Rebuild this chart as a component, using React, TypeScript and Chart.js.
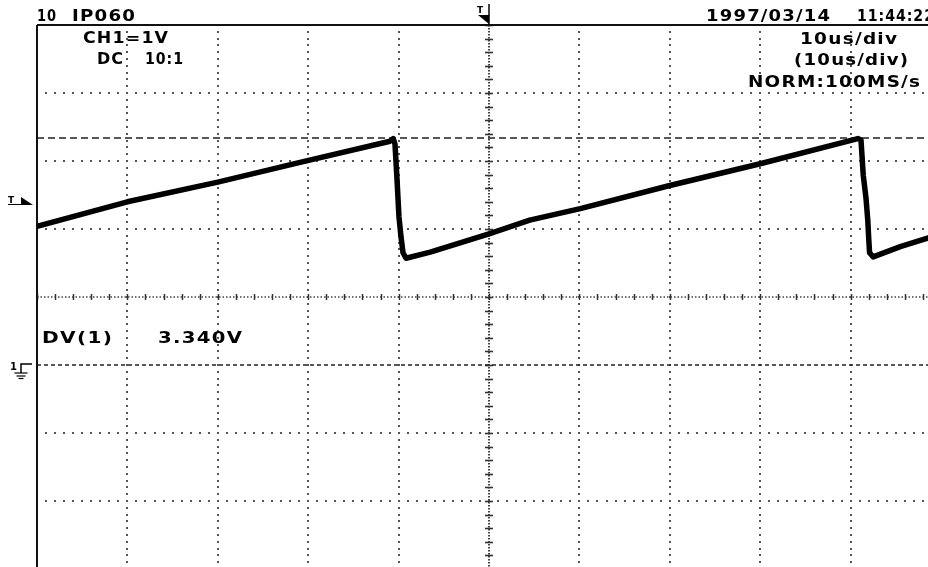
import React, { useEffect, useRef } from "react";
import { Chart, registerables } from "chart.js";

Chart.register(...registerables);

// Waveform: time (us, trigger at 0) and voltage (V, ground at 0)
const timeUs = [-50, -40, -30, -20.9, -10.95, -10.6, -10.4, -10.2, -9.96, -9.73, -9.51, -9.18, -6.5, 0, 4.5, 10.1, 20.0, 30.0, 40.8, 41.15, 41.4, 41.7, 41.9, 42.0, 42.1, 42.5, 45.5, 48.6, 50];
const volts = [2.04, 2.4, 2.69, 2.98, 3.29, 3.33, 3.25, 2.79, 2.18, 1.88, 1.65, 1.57, 1.66, 1.93, 2.13, 2.3, 2.64, 2.96, 3.33, 3.31, 2.79, 2.46, 2.13, 1.87, 1.65, 1.59, 1.74, 1.87, 1.92];

// Screen grid (10 us/div, 1 V/div)
const xRange = [-50, 50];
const yRange = [-3, 5];
const xGridUs = [-40, -30, -20, -10, 10, 20, 30, 40, 50];
const yGridV = [4, 3, 2, -1, -2];
const centerTimeUs = 0;
const centerVolts = 1;
const cursorVolts = 3.34;
const groundVolts = 0;
const triggerVolts = 2.37;

// Screen annotations
const headerLeft = ["10", "IP060"];
const dateText = "1997/03/14";
const timeText = "11:44:22";
const channelText = "CH1=1V";
const couplingText = ["DC", "10:1"];
const timebaseText = ["10us/div", "(10us/div)", "NORM:100MS/s"];
const measureLabel = "DV(1)";
const measureValue = "3.340V";

const FONT = 'bold 15px "DejaVu Sans", sans-serif';

function drawFitText(ctx: CanvasRenderingContext2D, s: string, x: number, baseline: number, width: number) {
  ctx.save();
  ctx.font = FONT;
  (ctx as any).letterSpacing = "1px";
  const m = ctx.measureText(s).width - 1;
  const sx = width / m;
  ctx.fillStyle = "#000";
  ctx.textBaseline = "alphabetic";
  ctx.textAlign = "left";
  ctx.translate(x, baseline);
  ctx.scale(sx, 1);
  ctx.fillText(s, 0, 0);
  ctx.restore();
}

const scopePlugin = {
  id: "scopeScreen",
  beforeDatasetsDraw(chart: any) {
    const ctx: CanvasRenderingContext2D = chart.ctx;
    const xs = chart.scales.x;
    const ys = chart.scales.y;
    const area = chart.chartArea;
    ctx.save();
    // dotted grid
    ctx.fillStyle = "#555";
    for (const t of xGridUs) {
      const px = Math.round(xs.getPixelForValue(t));
      for (let k = 0; k <= 80; k++) {
        const v = yRange[0] + k * 0.1;
        const py = Math.round(ys.getPixelForValue(v));
        ctx.fillRect(px - 1, py - 1, 2, 2);
      }
    }
    for (const v of yGridV) {
      const py = Math.round(ys.getPixelForValue(v));
      for (let k = 0; k <= 100; k++) {
        const t = xRange[0] + k;
        const px = Math.round(xs.getPixelForValue(t));
        ctx.fillRect(px - 1, py - 1, 2, 2);
      }
    }
    // center vertical axis with ticks
    const cx = Math.round(xs.getPixelForValue(centerTimeUs));
    ctx.strokeStyle = "#444";
    ctx.lineWidth = 2;
    ctx.setLineDash([1.5, 1.5]);
    ctx.beginPath();
    ctx.moveTo(cx, area.top);
    ctx.lineTo(cx, area.bottom);
    ctx.stroke();
    ctx.setLineDash([]);
    ctx.strokeStyle = "#333";
    ctx.lineWidth = 1.6;
    for (let k = 0; k <= 40; k++) {
      const v = yRange[0] + k * 0.2;
      const py = Math.round(ys.getPixelForValue(v)) + 0.5;
      ctx.beginPath();
      ctx.moveTo(cx - 4, py);
      ctx.lineTo(cx + 4, py);
      ctx.stroke();
    }
    // center horizontal axis with ticks
    const cy = Math.round(ys.getPixelForValue(centerVolts));
    ctx.strokeStyle = "#444";
    ctx.lineWidth = 1.6;
    ctx.setLineDash([1.5, 2]);
    ctx.beginPath();
    ctx.moveTo(area.left, cy);
    ctx.lineTo(area.right, cy);
    ctx.stroke();
    ctx.setLineDash([]);
    ctx.strokeStyle = "#333";
    ctx.lineWidth = 1.5;
    for (let k = 0; k <= 50; k++) {
      const t = xRange[0] + k * 2;
      const px = Math.round(xs.getPixelForValue(t)) + 0.5;
      ctx.beginPath();
      ctx.moveTo(px, cy - 3);
      ctx.lineTo(px, cy + 3);
      ctx.stroke();
    }
    // cursor dashed line
    ctx.strokeStyle = "#222";
    ctx.lineWidth = 1.5;
    ctx.setLineDash([7, 4]);
    const cuy = Math.round(ys.getPixelForValue(cursorVolts));
    ctx.beginPath();
    ctx.moveTo(area.left, cuy);
    ctx.lineTo(area.right, cuy);
    ctx.stroke();
    // ground dashed line
    ctx.setLineDash([4, 3]);
    const gy = Math.round(ys.getPixelForValue(groundVolts));
    ctx.beginPath();
    ctx.moveTo(area.left, gy);
    ctx.lineTo(area.right, gy);
    ctx.stroke();
    ctx.setLineDash([]);
    // borders
    ctx.strokeStyle = "#111";
    ctx.lineWidth = 2;
    ctx.beginPath();
    ctx.moveTo(area.left, area.top);
    ctx.lineTo(area.right + 10, area.top);
    ctx.stroke();
    ctx.beginPath();
    ctx.moveTo(area.left, area.top);
    ctx.lineTo(area.left, area.bottom + 10);
    ctx.stroke();
    ctx.restore();
  },
  afterDraw(chart: any) {
    const ctx: CanvasRenderingContext2D = chart.ctx;
    const xs = chart.scales.x;
    const ys = chart.scales.y;
    const area = chart.chartArea;
    // texts
    drawFitText(ctx, headerLeft[0], 37, 20.5, 19);
    drawFitText(ctx, headerLeft[1], 72, 20.5, 63);
    drawFitText(ctx, dateText, 706, 20.5, 124);
    drawFitText(ctx, timeText, 857, 20.5, 77);
    drawFitText(ctx, channelText, 83, 43, 85);
    drawFitText(ctx, couplingText[0], 97, 64, 26);
    drawFitText(ctx, couplingText[1], 145, 64, 38);
    drawFitText(ctx, timebaseText[0], 800, 44, 97);
    drawFitText(ctx, timebaseText[1], 794, 65, 114);
    drawFitText(ctx, timebaseText[2], 748, 87, 172);
    drawFitText(ctx, measureLabel, 42, 343, 70);
    drawFitText(ctx, measureValue, 158, 343, 84);

    ctx.save();
    ctx.fillStyle = "#000";
    ctx.strokeStyle = "#000";
    // top trigger position marker
    const tx = Math.round(xs.getPixelForValue(centerTimeUs));
    const top = area.top;
    ctx.lineWidth = 1.5;
    ctx.beginPath();
    ctx.moveTo(tx, 4);
    ctx.lineTo(tx, top);
    ctx.stroke();
    ctx.beginPath();
    ctx.moveTo(tx - 11, top - 10);
    ctx.lineTo(tx, top - 10);
    ctx.lineTo(tx, top - 1);
    ctx.closePath();
    ctx.fill();
    ctx.font = 'bold 9px "DejaVu Sans", sans-serif';
    ctx.textBaseline = "alphabetic";
    ctx.fillText("T", tx - 12, 13);
    // left trigger level marker
    const ty = Math.round(ys.getPixelForValue(triggerVolts));
    ctx.font = 'bold 9px "DejaVu Sans", sans-serif';
    ctx.fillText("T", 8, ty - 1);
    ctx.lineWidth = 1;
    ctx.beginPath();
    ctx.moveTo(8, ty + 0.5);
    ctx.lineTo(22, ty + 0.5);
    ctx.stroke();
    ctx.beginPath();
    ctx.moveTo(21, ty - 7);
    ctx.lineTo(33, ty + 1);
    ctx.lineTo(21, ty + 1);
    ctx.closePath();
    ctx.fill();
    // ground marker
    const gy = Math.round(ys.getPixelForValue(groundVolts));
    ctx.font = 'bold 10px "DejaVu Sans", sans-serif';
    ctx.fillText("1", 10, gy + 5);
    ctx.lineWidth = 1.5;
    ctx.beginPath();
    ctx.moveTo(32, gy - 1);
    ctx.lineTo(21, gy - 1);
    ctx.lineTo(21, gy + 8);
    ctx.stroke();
    ctx.lineWidth = 1.2;
    const bars: [number, number][] = [[8, 6.5], [11, 4.5], [13.5, 2.5]];
    for (const [dy, hw] of bars) {
      ctx.beginPath();
      ctx.moveTo(21 - hw, gy + dy);
      ctx.lineTo(21 + hw, gy + dy);
      ctx.stroke();
    }
    ctx.restore();
  },
};

export default function App() {
  const ref = useRef<HTMLCanvasElement | null>(null);
  useEffect(() => {
    document.body.style.margin = "0";
    document.body.style.background = "#fff";
    const canvas = ref.current;
    if (!canvas) return;
    const chart = new Chart(canvas, {
      type: "line",
      data: {
        datasets: [
          {
            data: timeUs.map((t, i) => ({ x: t, y: volts[i] })),
            borderColor: "#000",
            borderWidth: 5.5,
            pointRadius: 0,
            tension: 0,
            borderJoinStyle: "round",
            borderCapStyle: "round",
            fill: false,
          },
        ],
      },
      options: {
        animation: false,
        responsive: false,
        devicePixelRatio: 1,
        layout: { padding: { left: 37, top: 25, right: 4, bottom: 11 } },
        plugins: { legend: { display: false }, tooltip: { enabled: false }, title: { display: false } },
        events: [],
        scales: {
          x: { type: "linear", min: xRange[0], max: xRange[1], display: false },
          y: { type: "linear", min: yRange[0], max: yRange[1], display: false },
        },
      },
      plugins: [scopePlugin],
    });
    return () => chart.destroy();
  }, []);
  return (
    <div style={{ width: 928, height: 567, overflow: "hidden", position: "relative", background: "#fff" }}>
      <canvas ref={ref} width={945} height={580} style={{ display: "block", width: 945, height: 580 }} />
    </div>
  );
}
